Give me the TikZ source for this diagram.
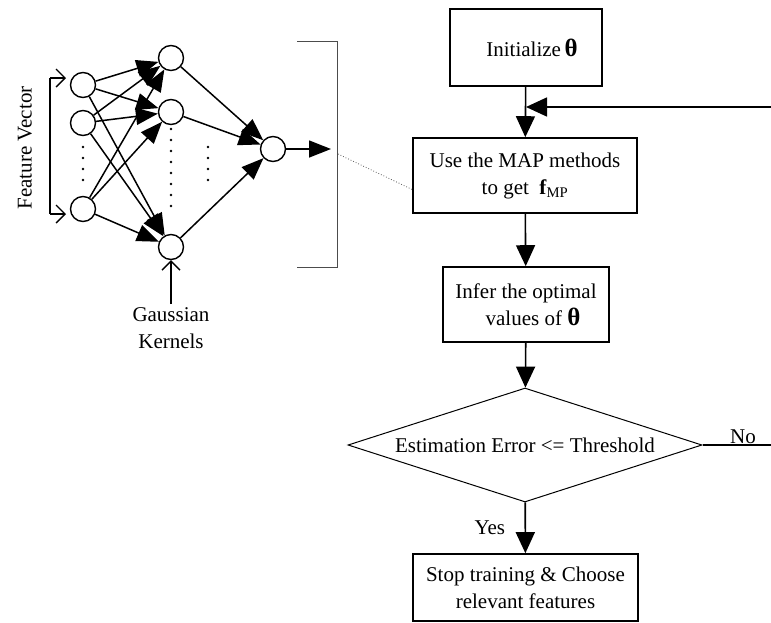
\documentclass[tikz,border=0pt]{standalone}
\usepackage{fontspec}
\setmainfont{Liberation Serif}
\usetikzlibrary{positioning, calc, shapes.geometric, arrows.meta}
\newcommand{\thetab}{{\fontsize{25}{27}\selectfont\textbf{θ}}}
\begin{document}
\begin{tikzpicture}[
            x=1pt, y=-1pt,
            font=\fontsize{21}{27}\selectfont,
            unit/.style={circle, draw, line width=1.4pt, minimum size=25pt, inner sep=0pt},
            nnarrow/.style={-{Triangle[length=22pt, width=17pt]}, line width=1.5pt},
            stepbox/.style={rectangle, draw, line width=1.6pt, align=center, inner sep=2pt},
            decision/.style={diamond, draw, line width=1pt, aspect=3.1, inner sep=2pt, minimum width=354pt, minimum height=114pt},
            flow/.style={-{Triangle[length=21pt, width=19pt]}, line width=1.6pt},
            openarrow/.style={-{Straight Barb[length=9pt, width=18pt]}, line width=1.4pt},
            dots/.style={line width=2.6pt, line cap=round, dash pattern=on 0pt off 11pt}
        ]
            \useasboundingbox (0,0) rectangle (771,622);

            % --- network ---
            \node[unit] (in1) at (83,85) {};
            \node[unit] (in2) at (83,123) {};
            \node[unit] (in3) at (83,209) {};
            \node[unit] (h1) at (171,58) {};
            \node[unit] (h2) at (171,112) {};
            \node[unit] (h3) at (171,247) {};
            \node[unit] (out) at (273,149) {};

            \foreach \i in {in1,in2,in3}
                \foreach \j in {h1,h2,h3}
                    \draw[nnarrow] (\i) -- (\j);
            \foreach \j in {h1,h2,h3}
                \draw[nnarrow] (\j) -- (out);

            \draw[dots] (83,147) -- (83,184);
            \draw[dots] (171,129) -- (171,215);
            \draw[dots] (208,147) -- (208,184);

            \coordinate (outend) at (331,149);
            \draw[nnarrow] (out) -- (outend);

            % input bracket
            \coordinate (fvtop) at (66,78);
            \coordinate (fvbot) at (66,214);
            \draw[openarrow] (50,78) -- (fvtop);
            \draw[openarrow] (50,214) -- (fvbot);
            \draw[line width=1.4pt] (50,78) -- (50,214);
            \node[rotate=90] (fv) at (25,148) {Feature Vector};

            % kernels
            \coordinate (gk) at (171,304);
            \draw[openarrow] (gk) -- (h3);
            \node[align=center, below=0pt of gk] (gklabel) {Gaussian\\Kernels};

            % bracket round the network
            \draw[line width=0.9pt, gray!60!black] (297,41) -| (337,267) -- (297,267);
            \coordinate (brk) at (338,154);

            % --- flow chart ---
            \node[stepbox, minimum width=152pt, minimum height=77pt] (init) at (526,47.5) {\hspace{12pt}Initialize\,\thetab};
            \node[stepbox, minimum width=224pt, minimum height=75pt] (map) at (525,175.5) {Use the MAP methods\\to get~ \textbf{f}\textsubscript{MP}};
            \node[stepbox, minimum width=166pt, minimum height=75pt] (infer) at (526,304.5) {Infer the optimal\\\hspace{14pt}values of \thetab};
            \node[decision] (dec) at (525,445) {Estimation Error <= Threshold};
            \node[stepbox, minimum width=225pt, minimum height=67pt] (stop) at (525.5,587.5) {Stop training \& Choose\\relevant features};

            \coordinate (join) at (526,107);
            \draw[flow] (init) -- (map);
            \draw[flow] (map) -- (infer);
            \draw[flow] (infer) -- (dec);
            \draw[flow] (dec) -- node[left=16pt] {Yes} (stop);
            \draw[flow] (dec.east) -- node[pos=0.57, above, inner sep=1pt] {No} ++(71,0) |- (join);

            \draw[dotted, line width=0.8pt, gray!70!black] (brk) -- ([yshift=-14pt]map.west);
        \end{tikzpicture}
\end{document}
